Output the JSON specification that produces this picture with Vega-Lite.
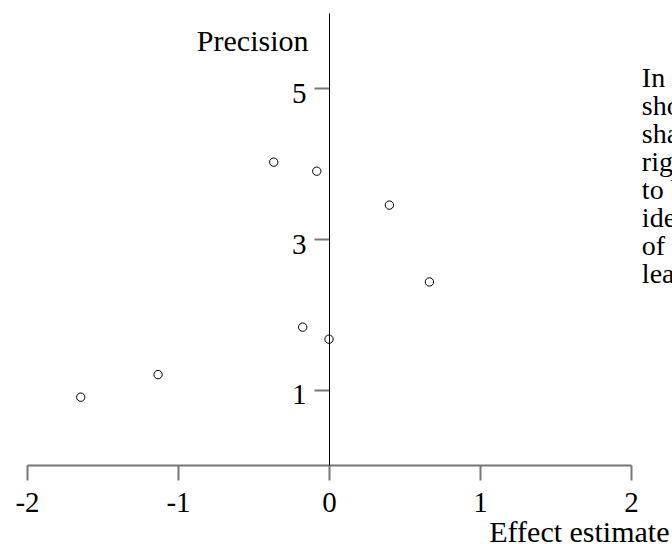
{
  "$schema": "https://vega.github.io/schema/vega-lite/v6.json",
  "width": 604,
  "height": 452,
  "autosize": {"type": "none"},
  "padding": {"left": 27, "top": 13, "right": 41, "bottom": 79},
  "config": {"view": {"stroke": null}, "font": "Liberation Serif"},
  "layer": [
    {
      "data": {"values": [
        {"effect": -0.366, "precision": 4.02},
        {"effect": -0.081, "precision": 3.90},
        {"effect": 0.400, "precision": 3.45},
        {"effect": 0.665, "precision": 2.43},
        {"effect": -0.174, "precision": 1.83},
        {"effect": 0.0, "precision": 1.67},
        {"effect": -1.132, "precision": 1.20},
        {"effect": -1.644, "precision": 0.90}
      ]},
      "mark": {"type": "point", "shape": "circle", "filled": false, "color": "black", "size": 70, "strokeWidth": 1, "opacity": 1},
      "encoding": {
        "x": {
          "field": "effect", "type": "quantitative",
          "scale": {"domain": [-2, 2], "nice": false, "zero": false},
          "axis": {
            "values": [-2, -1, 0, 1, 2], "grid": false,
            "labelExpr": "datum.value + ''",
            "domainColor": "#777", "domainWidth": 2,
            "tickColor": "#777", "tickWidth": 2, "tickSize": 15,
            "labelFont": "Liberation Serif", "labelFontSize": 29, "labelColor": "black",
            "labelPadding": 8, "labelFlush": false, "labelOverlap": false,
            "title": "Effect estimate", "titleFont": "Liberation Serif", "titleFontSize": 30,
            "titleFontWeight": "normal", "titleColor": "black",
            "titleAlign": "right", "titleBaseline": "alphabetic", "titleX": 642, "titleY": 76
          }
        },
        "y": {
          "field": "precision", "type": "quantitative",
          "scale": {"domain": [0, 6], "nice": false},
          "axis": {
            "values": [1, 3, 5], "grid": false, "offset": -302,
            "labelExpr": "datum.value + ''",
            "domainColor": "black", "domainWidth": 1,
            "tickColor": "#777", "tickWidth": 2, "tickSize": 15,
            "labelFont": "Liberation Serif", "labelFontSize": 29, "labelColor": "black",
            "labelPadding": 8, "labelOffset": 5,
            "title": "Precision", "titleAngle": 0, "titleFont": "Liberation Serif", "titleFontSize": 30,
            "titleFontWeight": "normal", "titleColor": "black",
            "titleAlign": "right", "titleBaseline": "alphabetic", "titleX": -21, "titleY": 37
          }
        }
      }
    },
    {
      "data": {"values": [
        {"effect": 2.072, "precision": 5.02, "note": "In the absence of bias the plot\nshould resemble a symmetrical\nshape, with studies spread evenly\nright and left of the pooled estimate.\nto be asymmetrical, the plot can\nidentify a possible gap in the region\nof small, non-significant studies at\nleast on one side."}
      ]},
      "mark": {"type": "text", "align": "left", "baseline": "alphabetic", "lineBreak": "\n", "lineHeight": 28, "fontSize": 28, "font": "Liberation Serif", "color": "black"},
      "encoding": {
        "x": {"field": "effect", "type": "quantitative"},
        "y": {"field": "precision", "type": "quantitative"},
        "text": {"field": "note"}
      }
    }
  ]
}
